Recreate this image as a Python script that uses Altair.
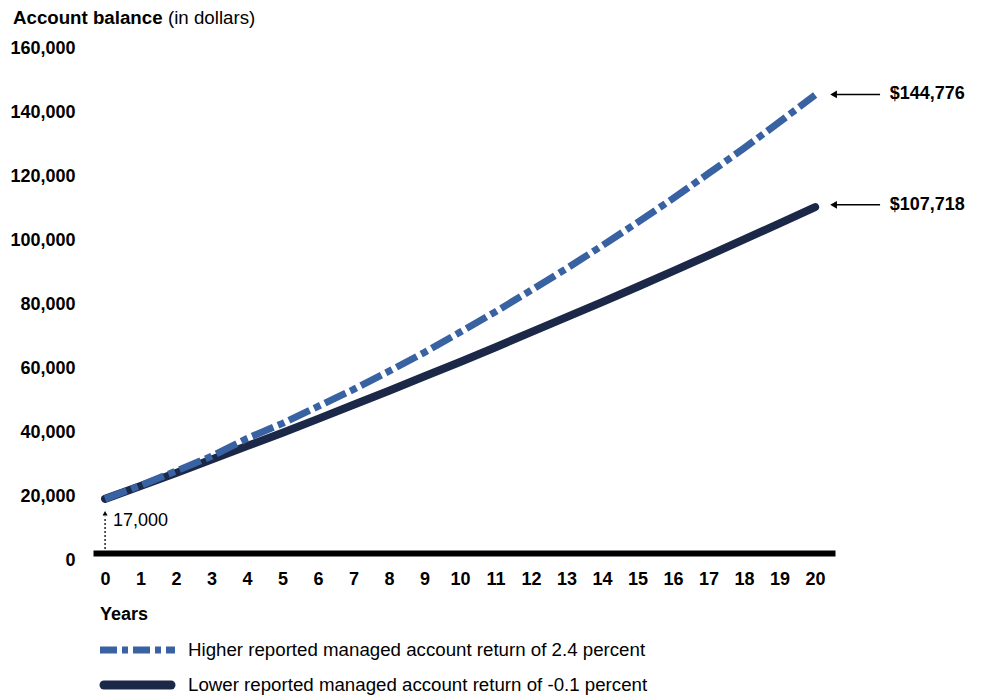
import altair as alt
import pandas as pd

# ---- data ----
years = list(range(21))
higher = [19100, 23300, 27800, 32400, 38000, 42700, 48000, 53300, 59000, 64900,
          71200, 77600, 84300, 91100, 98200, 105500, 113000, 120800, 128700, 136900, 145300]
lower = [19100, 23100, 27200, 31400, 35600, 39800, 44100, 48500, 52900, 57400,
         61900, 66500, 71200, 75900, 80600, 85400, 90300, 95200, 100200, 105200, 110300]
series_names = ["Higher reported managed account return of 2.4 percent",
                "Lower reported managed account return of -0.1 percent"]
end_labels = ["$144,776", "$107,718"]
end_values = [145500, 111000]
start_label = ["17,000"]
y_ticks = [0, 20000, 40000, 60000, 80000, 100000, 120000, 140000, 160000]

BLUE = "#3862A1"
NAVY = "#1B2848"
FONT = "Liberation Sans"
DASH = [23, 5, 7, 5]
TXT = 18.7

df_h = pd.DataFrame({"year": years, "balance": higher})
df_l = pd.DataFrame({"year": years, "balance": lower})
ann = pd.DataFrame({"label": end_labels, "value": end_values})

x_scale = alt.Scale(domain=[-0.34, 20.56], nice=False, zero=False)
y_scale = alt.Scale(domain=[0, 160000], nice=False)

x_axis = alt.Axis(values=years, format="d", labelFont=FONT, labelFontSize=18,
                  labelFontWeight="bold", labelColor="black", ticks=False, grid=False,
                  domainColor="black", domainWidth=6, labelPadding=17, title=None,
                  labelFlush=False, labelOverlap=False, offset=-7)
y_axis = alt.Axis(values=y_ticks, format=",d", labelFont=FONT, labelFontSize=18,
                  labelFontWeight="bold", labelColor="black", ticks=False, grid=False,
                  domain=False, labelPadding=18, title=None, labelOverlap=False)


def X(v):
    return alt.X(datum=v, type="quantitative", scale=x_scale, axis=x_axis)


def Y(v):
    return alt.Y(datum=v, type="quantitative", scale=y_scale, axis=y_axis)


xf = alt.X("year:Q", scale=x_scale, axis=x_axis)
yf = alt.Y("balance:Q", scale=y_scale, axis=y_axis)

lower_line = alt.Chart(df_l).mark_line(color=NAVY, strokeWidth=8, strokeCap="round").encode(
    x=xf, y=yf)
higher_line = alt.Chart(df_h).mark_line(color=BLUE, strokeWidth=7, strokeDash=DASH,
                                        strokeCap="butt").encode(x=xf, y=yf)

# end-value annotations
yv = alt.Y("value:Q", scale=y_scale, axis=y_axis)
arrows = alt.Chart(ann).mark_rule(color="black", strokeWidth=1.5).encode(
    x=X(20.5), x2=alt.X2(datum=21.83), y=yv)
heads = alt.Chart(ann).mark_point(shape="triangle-left", filled=True, size=60,
                                  color="black", opacity=1).encode(x=X(20.52), y=yv)
end_text = alt.Chart(ann).mark_text(align="left", baseline="middle", font=FONT,
                                    fontSize=18, fontWeight="bold", color="black").encode(
    x=X(22.1), y=yv, text="label:N")

# starting-value annotation
sdf = pd.DataFrame({"t": start_label})
start_rule = alt.Chart(sdf).mark_rule(color="black", strokeWidth=1.3, strokeDash=[2, 2]).encode(
    x=X(0), y=Y(2200), y2=alt.Y2(datum=13500))
start_head = alt.Chart(sdf).mark_point(shape="triangle-up", filled=True, size=25,
                                       color="black", opacity=1).encode(x=X(0), y=Y(14600))
start_text = alt.Chart(sdf).mark_text(align="left", baseline="middle", font=FONT,
                                      fontSize=18, color="black").encode(
    x=X(0.22), y=Y(12200), text="t:N")

# axis title texts
t1 = alt.Chart(pd.DataFrame({"t": ["Account balance"]})).mark_text(
    align="left", baseline="middle", font=FONT, fontSize=TXT, fontWeight="bold", color="black"
).encode(x=alt.value(-80), y=alt.value(-30), text="t:N")
t2 = alt.Chart(pd.DataFrame({"t": ["(in dollars)"]})).mark_text(
    align="left", baseline="middle", font=FONT, fontSize=TXT, color="black"
).encode(x=alt.value(75), y=alt.value(-30), text="t:N")
t3 = alt.Chart(pd.DataFrame({"t": ["Years"]})).mark_text(
    align="left", baseline="middle", font=FONT, fontSize=18, fontWeight="bold", color="black"
).encode(x=alt.value(7), y=alt.value(567), text="t:N")

# legend
leg1_sym = alt.Chart(pd.DataFrame({"t": [series_names[0]]})).mark_rule(
    color=BLUE, strokeWidth=7, strokeDash=[17, 5, 6, 5], strokeCap="butt"
).encode(x=alt.value(7), x2=alt.value(82), y=alt.value(602))
leg2_sym = alt.Chart(pd.DataFrame({"t": [series_names[1]]})).mark_rule(
    color=NAVY, strokeWidth=9, strokeCap="round"
).encode(x=alt.value(11), x2=alt.value(78), y=alt.value(637))
leg1_txt = alt.Chart(pd.DataFrame({"t": [series_names[0]]})).mark_text(
    align="left", baseline="middle", font=FONT, fontSize=TXT, color="black"
).encode(x=alt.value(95), y=alt.value(602), text="t:N")
leg2_txt = alt.Chart(pd.DataFrame({"t": [series_names[1]]})).mark_text(
    align="left", baseline="middle", font=FONT, fontSize=TXT, color="black"
).encode(x=alt.value(95), y=alt.value(637), text="t:N")

chart = alt.layer(
    lower_line, higher_line, arrows, heads, end_text,
    start_rule, start_head, start_text, t1, t2, t3,
    leg1_sym, leg2_sym, leg1_txt, leg2_txt,
).properties(
    width=742, height=512,
    padding={"left": 85, "top": 40, "right": 140, "bottom": 138},
    autosize=alt.AutoSizeParams(type="none"),
    background="white",
).configure_view(stroke=None)

chart.save("out.html", embed_options={"renderer": "svg", "actions": False})
